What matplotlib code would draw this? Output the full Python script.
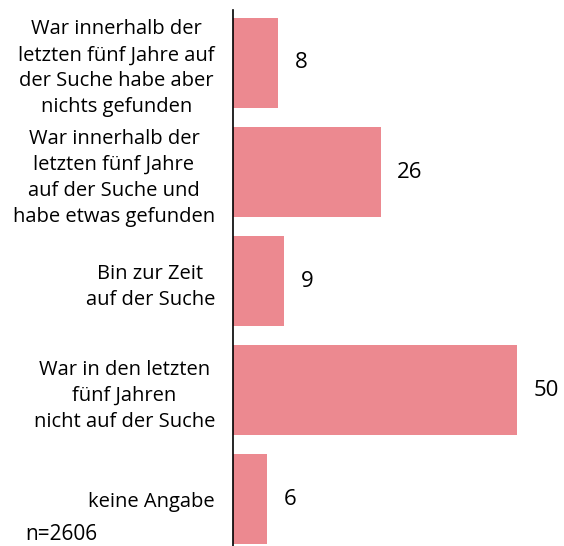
import matplotlib.pyplot as plt

# survey answers, top to bottom
labels = [
    "War innerhalb der\nletzten fünf Jahre auf\nder Suche habe aber\nnichts gefunden",
    "War innerhalb der\nletzten fünf Jahre\nauf der Suche und\nhabe etwas gefunden",
    "Bin zur Zeit\nauf der Suche",
    "War in den letzten\nfünf Jahren\nnicht auf der Suche",
    "keine Angabe",
]
values = [8, 26, 9, 50, 6]
n_note = "n=2606"

plt.rcParams['font.family'] = ['Open Sans', 'DejaVu Sans']

fig = plt.figure(figsize=(5.64, 5.46), dpi=100)
ax = fig.add_axes([233 / 564, 0, 331 / 564, 536 / 546])

pos = range(len(values))
ax.barh(pos, values, height=0.83, color="#ec8990")
ax.set_ylim(4.43, -0.486)
ax.set_xlim(0, 331 / 5.68)

for p, v in zip(pos, values):
    ax.text(v + 2.9, p, str(v), va="center", ha="left", fontsize=16)

ax.set_yticks(list(pos))
ax.set_yticklabels(labels, fontsize=14.5, linespacing=1.4, multialignment="center")
ax.tick_params(axis="y", length=0, pad=13)
ax.set_xticks([])

for s in ["top", "right", "bottom"]:
    ax.spines[s].set_visible(False)
ax.spines["left"].set_linewidth(1.2)

fig.text(25 / 564, 1 - 534 / 546, n_note, fontsize=15, va="center", ha="left")

fig.savefig("out.png", dpi=100)
